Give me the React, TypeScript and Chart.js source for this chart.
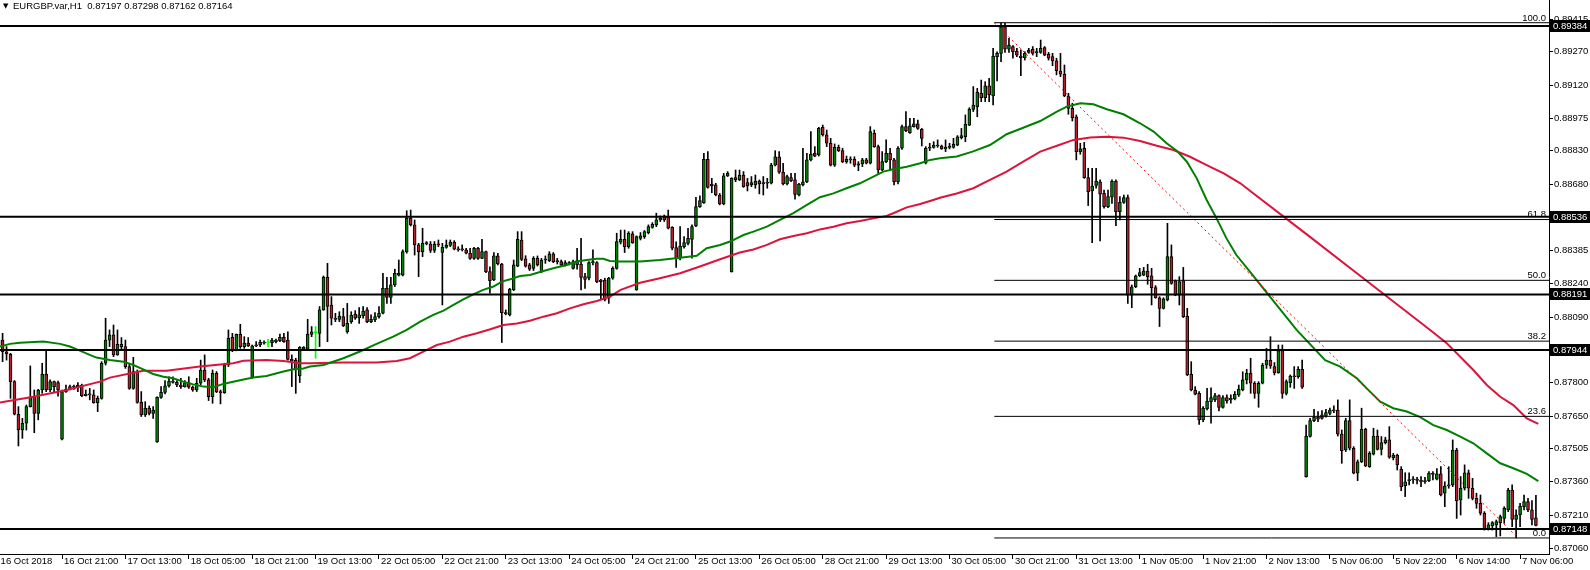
import React, { useEffect, useRef } from "react";
import { Chart, registerables } from "chart.js";

Chart.register(...registerables);

// prices are stored in points (1 point = 0.00001)
const POINT = 0.00001;
const symbolName = "EURGBP.var";
const timeframe = "H1";

const opens = [
  87959,87988,87936,87925,87803,87658,87588,87618,87692,87736,
  87662,87766,87837,87766,87803,87799,87547,87759,87769,87781,
  87778,87788,87741,87747,87744,87710,87729,87885,87988,88011,
  87922,87969,87959,87870,87773,87848,87711,87655,87685,87662,
  87536,87733,87755,87784,87806,87800,87788,87781,87799,87778,
  87766,87796,87855,87811,87736,87840,87759,87754,87877,88000,
  87944,88013,87959,87974,87822,87962,87966,87974,87976,87976,
  87981,87985,88000,87988,87902,87899,87828,87948,87948,88013,
  88021,88018,88122,88267,88144,88085,88080,88092,88025,88070,
  88104,88088,88095,88122,88070,88077,88092,88107,88218,88178,
  88233,88277,88277,88381,88529,88500,88411,88381,88415,88415,
  88386,88415,88378,88400,88409,88424,88392,88389,88389,88374,
  88351,88396,88351,88381,88292,88255,88363,88326,88110,88100,
  88211,88317,88433,88349,88322,88307,88351,88292,88344,88341,
  88371,88337,88337,88322,88332,88307,88341,88326,88270,88263,
  88332,88332,88255,88255,88174,88263,88307,88423,88436,88403,
  88460,88211,88440,88448,88466,88489,88500,88522,88540,88534,
  88489,88399,88352,88403,88418,88436,88495,88581,88599,88792,
  88682,88678,88633,88593,88718,88292,88710,88700,88722,88688,
  88678,88678,88695,88682,88688,88685,88766,88803,88735,88682,
  88710,88700,88633,88678,88692,88789,88818,88811,88934,88900,
  88863,88766,88845,88830,88781,88792,88792,88766,88771,88789,
  88774,88907,88848,88744,88781,88818,88789,88692,88841,88937,
  88910,88937,88949,88925,88774,88841,88845,88855,88851,88838,
  88845,88844,88855,88888,88892,88944,89014,89026,89085,89066,
  89118,89075,89248,89263,89381,89281,89293,89273,89251,89244,
  89267,89281,89266,89267,89288,89258,89248,89230,89184,89170,
  89073,89018,88980,88826,88841,88710,88651,88675,88692,88640,
  88581,88623,88695,88559,88600,88621,88188,88225,88274,88277,
  88295,88273,88221,88176,88129,88166,88359,88251,88188,88251,
  88095,87836,87766,87751,87633,87682,87714,87722,87741,87688,
  87732,87722,87726,87744,87766,87811,87840,87796,87751,87796,
  87877,87899,87870,87843,87941,87751,87799,87828,87825,87858,
  87381,87559,87630,87645,87640,87650,87662,87677,87677,87570,
  87499,87630,87507,87396,87447,87591,87425,87481,87561,87502,
  87532,87544,87465,87477,87413,87341,87363,87366,87368,87364,
  87358,87363,87396,87369,87393,87307,87339,87344,87499,87277,
  87329,87398,87329,87284,87262,87218,87147,87161,87166,87176,
  87195,87233,87321,87191,87210,87247,87270,87233,87197
];

const highs = [
  88011,88018,87959,87929,87808,87692,87640,87699,87873,87766,
  87769,87885,87944,87811,87806,87806,87766,87788,87788,87788,
  87799,87792,87766,87773,87766,87739,87892,88085,88033,88055,
  88033,87999,87988,87885,87911,87855,87759,87714,87695,87692,
  87736,87781,87808,87825,87825,87808,87818,87808,87825,87784,
  87818,87899,87922,87818,87855,87848,87766,87885,88033,88018,
  88015,88058,88003,87999,87966,87981,87988,87985,87991,87996,
  87992,88015,88018,88025,87922,87907,87959,87959,88080,88048,
  88048,88137,88273,88329,88181,88107,88114,88129,88151,88114,
  88119,88132,88137,88132,88100,88110,88137,88285,88267,88267,
  88303,88344,88389,88563,88566,88522,88418,88485,88426,88426,
  88426,88433,88418,88433,88433,88430,88403,88411,88396,88396,
  88400,88400,88436,88384,88314,88377,88374,88329,88122,88218,
  88344,88470,88470,88363,88329,88359,88362,88351,88362,88381,
  88377,88351,88344,88341,88337,88344,88396,88440,88285,88337,
  88389,88337,88258,88263,88267,88314,88463,88477,88477,88470,
  88470,88451,88466,88475,88500,88510,88552,88540,88544,88566,
  88492,88425,88492,88448,88485,88500,88623,88629,88818,88826,
  88707,88685,88640,88729,88737,88710,88744,88744,88737,88707,
  88715,88722,88700,88715,88707,88774,88830,88826,88774,88722,
  88729,88729,88685,88841,88818,88915,88848,88934,88944,88922,
  88885,88860,88855,88841,88806,88803,88803,88781,88796,88796,
  88937,88922,88855,88826,88878,88841,88796,88848,88944,89004,
  88974,88974,88966,88929,88848,88863,88870,88878,88855,88878,
  88863,88885,88897,88929,88989,89021,89115,89107,89144,89137,
  89152,89285,89270,89399,89396,89330,89297,89285,89278,89270,
  89285,89293,89285,89322,89293,89267,89263,89241,89263,89211,
  89085,89041,88989,88863,88867,88752,88752,88752,88700,88655,
  88655,88700,88700,88626,88633,88633,88233,88277,88307,88311,
  88325,88307,88230,88181,88176,88507,88411,88255,88270,88311,
  88129,87892,87781,87759,87692,87773,87776,87751,87744,87741,
  87744,87744,87759,87788,87847,87858,87907,87803,87803,87885,
  87951,88003,87888,87966,87966,87811,87833,87870,87870,87899,
  87610,87640,87680,87670,87674,87680,87685,87695,87722,87588,
  87640,87722,87514,87455,87685,87596,87492,87596,87588,87559,
  87556,87603,87484,87481,87425,87398,87398,87381,87378,87381,
  87378,87403,87403,87417,87425,87358,87425,87544,87507,87381,
  87433,87410,87373,87307,87299,87225,87176,87181,87188,87210,
  87247,87329,87344,87233,87262,87299,87284,87274,87298
];

const lows = [
  87944,87892,87899,87729,87655,87517,87551,87588,87690,87576,
  87633,87751,87759,87759,87754,87739,87544,87755,87766,87769,
  87759,87736,87739,87722,87707,87670,87725,87877,87959,87914,
  87920,87944,87862,87769,87769,87707,87648,87648,87655,87640,
  87533,87729,87748,87778,87796,87781,87773,87778,87773,87760,
  87759,87788,87803,87719,87707,87754,87704,87751,87870,87936,
  87940,87951,87951,87959,87818,87959,87959,87970,87959,87959,
  87975,87981,87977,87899,87781,87751,87799,87944,87944,88003,
  87907,87959,88120,87981,88055,88070,88070,88048,88018,88062,
  88080,88062,88085,88065,88065,88070,88085,88104,88151,88151,
  88226,88273,88273,88374,88495,88366,88270,88359,88411,88377,
  88377,88403,88144,88396,88403,88389,88383,88384,88371,88347,
  88347,88347,88350,88288,88196,88252,88322,87977,88100,88095,
  88208,88314,88341,88312,88297,88297,88317,88288,88329,88337,
  88332,88326,88317,88317,88322,88303,88303,88211,88218,88255,
  88322,88243,88166,88162,88151,88258,88303,88415,88377,88396,
  88418,88209,88433,88440,88460,88485,88492,88515,88515,88482,
  88389,88311,88344,88396,88411,88352,88492,88578,88596,88663,
  88643,88629,88589,88589,88715,88290,88692,88697,88667,88651,
  88670,88663,88638,88633,88663,88682,88762,88729,88678,88678,
  88692,88614,88629,88673,88688,88784,88803,88806,88895,88848,
  88762,88760,88826,88777,88774,88774,88759,88741,88759,88771,
  88771,88845,88726,88741,88777,88744,88678,88682,88836,88915,
  88907,88934,88925,88851,88771,88830,88841,88845,88836,88826,
  88838,88841,88852,88882,88870,88941,89004,88981,89048,89048,
  89048,89033,89140,89226,89267,89267,89241,89248,89164,89233,
  89263,89255,89248,89263,89252,89233,89208,89167,89159,89070,
  88992,88962,88789,88814,88707,88586,88421,88663,88429,88574,
  88577,88596,88497,88522,88596,88151,88132,88221,88270,88274,
  88236,88144,88174,88048,88126,88162,88236,88185,88144,88088,
  87830,87762,87744,87613,87625,87677,87618,87714,87673,87685,
  87707,87707,87722,87737,87762,87793,87751,87729,87689,87793,
  87862,87862,87833,87840,87729,87744,87778,87773,87818,87773,
  87378,87556,87625,87625,87636,87645,87655,87665,87561,87440,
  87492,87499,87393,87363,87443,87425,87422,87477,87499,87477,
  87526,87462,87455,87410,87318,87292,87344,87351,87348,87336,
  87351,87358,87366,87366,87295,87247,87329,87336,87195,87210,
  87321,87284,87277,87240,87210,87143,87143,87143,87114,87117,
  87173,87225,87158,87108,87158,87233,87225,87166,87162
];

const closes = [
  87988,87936,87926,87803,87658,87588,87618,87692,87736,87662,
  87766,87837,87766,87803,87781,87766,87759,87769,87781,87778,
  87788,87741,87747,87744,87710,87729,87885,87988,88011,87922,
  87969,87959,87870,87773,87848,87711,87655,87685,87662,87677,
  87733,87755,87784,87806,87800,87788,87781,87799,87778,87766,
  87796,87855,87811,87736,87840,87759,87754,87877,87996,87944,
  88013,87959,87974,87962,87962,87966,87978,87978,87976,87988,
  87988,88000,87981,87902,87896,87855,87956,87956,88013,88025,
  88021,88122,88267,88137,88085,88080,88095,88051,88062,88098,
  88085,88100,88117,88070,88080,88092,88107,88218,88178,88233,
  88285,88285,88381,88529,88500,88411,88381,88418,88421,88386,
  88415,88411,88400,88409,88424,88392,88389,88392,88374,88351,
  88396,88351,88381,88292,88252,88363,88326,88110,88104,88214,
  88322,88436,88347,88317,88303,88351,88322,88344,88347,88371,
  88337,88341,88322,88332,88326,88337,88322,88267,88258,88332,
  88337,88248,88248,88166,88263,88307,88426,88436,88403,88463,
  88421,88448,88451,88470,88492,88503,88522,88529,88522,88485,
  88396,88352,88406,88421,88440,88492,88581,88608,88792,88667,
  88673,88633,88593,88718,88729,88707,88700,88722,88670,88673,
  88688,88695,88682,88688,88685,88766,88803,88735,88682,88715,
  88697,88636,88682,88692,88789,88815,88806,88929,88900,88863,
  88766,88845,88830,88781,88792,88789,88766,88771,88789,88774,
  88915,88848,88744,88781,88818,88789,88692,88841,88937,88919,
  88940,88949,88929,88885,88841,88845,88855,88851,88838,88845,
  88848,88858,88892,88897,88947,89014,89033,89090,89066,89118,
  89078,89251,89263,89381,89281,89300,89270,89255,89244,89263,
  89276,89263,89268,89285,89255,89241,89229,89186,89170,89073,
  89018,88977,88826,88838,88710,88648,88673,88695,88637,88581,
  88626,88695,88559,88600,88621,88188,88225,88273,88288,88295,
  88270,88221,88176,88129,88171,88359,88240,88188,88248,88092,
  87833,87766,87747,87633,87685,87717,87732,87741,87688,87732,
  87717,87729,87747,87770,87811,87840,87796,87751,87796,87877,
  87899,87873,87843,87941,87751,87803,87828,87825,87858,87778,
  87561,87630,87645,87636,87655,87665,87677,87673,87570,87496,
  87630,87507,87396,87447,87591,87428,87484,87561,87502,87532,
  87544,87467,87477,87433,87336,87358,87366,87369,87364,87358,
  87363,87396,87390,87393,87299,87339,87344,87499,87274,87329,
  87398,87329,87284,87262,87218,87147,87166,87176,87181,87203,
  87240,87321,87191,87210,87250,87270,87233,87191,87164
];

// moving averages (bar position, price in points)
const greenMaBars = [
  0.35,2.9,5.4,11.3,15.5,18,20.5,23,24.7,28.1,31.5,34,36.5,39,41.6,44,46.6,49.1,51.7,54.2,
  56.7,59.2,61.8,64.3,67.6,71.9,74.4,76.9,78.6,82,87,91.2,95.4,99.6,103,106.4,109.7,112.3,114.8,117.3,
  119.8,122.3,124.9,127,129.1,131.6,134.1,137.5,140,143.4,145.9,148.4,150.95,152.6,154.3,156.8,161.9,166.9,172,176.2,
  178.7,182.1,184.6,188,190.5,193.9,197.2,200.6,204,207.3,210.7,214,217.4,220.8,223.3,225.8,229.2,232.6,235.1,237.6,
  241.8,245.8,250.2,252.8,254.4,258.6,262.9,267.1,269.6,273,276.3,279.7,283.9,288.1,291.5,294.8,297.4,299.9,302.4,304.9,
  307.4,309.9,312.4,315.8,327.6,334.8,338.6,342.8,345.3,348.7,352,355.4,358.8,362.1,365.5,368.9,372.2,375.6,379,382.3,
  385.7,388.6
];
const greenMaValues = [
  87959,87971,87976,87982,87971,87959,87941,87922,87910,87899,87892,87877,87858,87837,87825,87818,87803,87791,87781,87778,
  87793,87803,87813,87821,87828,87848,87858,87862,87870,87877,87907,87937,87971,88003,88033,88070,88100,88119,88144,88169,
  88191,88211,88226,88248,88258,88273,88277,88295,88307,88322,88337,88344,88349,88349,88340,88337,88337,88344,88354,88363,
  88396,88411,88426,88455,88470,88492,88522,88552,88589,88623,88640,88663,88685,88715,88737,88747,88759,88774,88789,88796,
  88804,88826,88855,88885,88903,88932,88962,89004,89026,89041,89036,89014,88992,88952,88915,88863,88829,88781,88707,88611,
  88529,88440,88366,88292,88033,87899,87870,87818,87773,87714,87685,87670,87645,87610,87588,87559,87529,87484,87440,87418,
  87393,87361
];

const redMaBars = [
  0.35,8.8,17.2,25.6,28.1,34,36.5,42.4,50.8,59.2,61.8,67.6,71.9,76.1,78.6,87,95.4,100.5,103.8,107.2,
  110.6,113.9,117.3,120.7,124.1,127.4,130.8,134.1,137.5,140.9,144.2,147.6,151,154.3,157,161.9,166.9,172,177,182.1,
  187.1,190.5,193.9,197.2,200.6,204,207.3,210.7,214,217.4,220.8,224.1,225.8,229.2,232.6,235.9,237.6,241.8,246,250.2,
  254.4,258.6,262.9,267.1,271.3,275.5,279.7,283.9,288.1,292.3,296.5,300.7,304.9,309.2,313.4,315.9,330,345,361.3,365.5,
  368.9,372.2,375.6,379,382.3,385.7,388.6
];
const redMaValues = [
  87710,87736,87766,87803,87821,87843,87851,87852,87870,87885,87896,87899,87895,87885,87885,87888,87888,87895,87907,87937,
  87966,87981,88003,88018,88036,88055,88062,88074,88092,88107,88129,88147,88162,88181,88211,88243,88263,88285,88315,88347,
  88377,88391,88411,88436,88451,88463,88480,88492,88507,88517,88529,88540,88552,88578,88593,88611,88621,88640,88663,88700,
  88737,88781,88826,88852,88878,88889,88892,88888,88873,88852,88833,88803,88766,88729,88685,88651,88460,88255,88033,87974,
  87914,87855,87788,87736,87699,87640,87615
];

const timeLabelBars = [0,16,32,48,64,80,96,112,128,144,160,176,192,208,224,240,256,272,288,304,320,336,352,368,384];
const timeLabels = [
  "16 Oct 2018","16 Oct 21:00","17 Oct 13:00","18 Oct 05:00","18 Oct 21:00","19 Oct 13:00",
  "22 Oct 05:00","22 Oct 21:00","23 Oct 13:00","24 Oct 05:00","24 Oct 21:00","25 Oct 13:00",
  "26 Oct 05:00","28 Oct 21:00","29 Oct 13:00","30 Oct 05:00","30 Oct 21:00","31 Oct 13:00",
  "1 Nov 05:00","1 Nov 21:00","2 Nov 13:00","5 Nov 06:00","5 Nov 22:00","6 Nov 14:00","7 Nov 06:00"
];

const priceTicks = [
  0.89415,0.8927,0.8912,0.88975,0.8883,0.8868,0.88535,0.88385,0.8824,
  0.8809,0.87945,0.878,0.8765,0.87505,0.8736,0.8721,0.8706
];

const levelLines = [0.89384, 0.88536, 0.88191, 0.87944, 0.87148];

const fibLevels = [0, 23.6, 38.2, 50, 61.8, 100];
const fibHigh = 0.89399;
const fibLow = 0.87108;
const fibStartBar = 251.3;
const fibEndBar = 383.5;

const X_MIN = 0.35;
const X_MAX = 391.3;
const Y_MIN = 0.870367;
const Y_MAX = 0.895;

const FONT = "Tahoma, 'Liberation Sans', Arial, sans-serif";
const FONT_SIZE = 9.5;

const BULL = "#008000";
const BEAR = "#b4202a";
const DOJI = "#00ff00";

export default function App() {
  const canvasRef = useRef<HTMLCanvasElement | null>(null);

  useEffect(() => {
    document.body.style.margin = "0";
    const canvas = canvasRef.current;
    if (!canvas) return;

    const bodyFill = opens.map((o, i) => (o === closes[i] ? DOJI : closes[i] > o ? BULL : BEAR));
    const lineColor = opens.map((o, i) => (o === closes[i] ? DOJI : "#000000"));

    const wicks = opens.map((_, i) => ({ x: i, y: [lows[i] * POINT, highs[i] * POINT] }));
    const bodies = opens.map((o, i) => ({ x: i, y: [o * POINT, closes[i] * POINT] }));

    const hLineSets = levelLines.map((v) => ({
      type: "line" as const,
      data: [{ x: X_MIN, y: v }, { x: X_MAX, y: v }],
      borderColor: "#000000",
      borderWidth: 2,
      pointRadius: 0,
      order: 0,
    }));

    const fibSets = fibLevels.map((l) => {
      const p = fibLow + ((fibHigh - fibLow) * l) / 100;
      return {
        type: "line" as const,
        data: [{ x: fibStartBar, y: p }, { x: X_MAX, y: p }],
        borderColor: "#000000",
        borderWidth: 1,
        pointRadius: 0,
        order: 0,
      };
    });

    const overlay = {
      id: "mt4Overlay",
      afterDraw(chart: any) {
        const { ctx, chartArea } = chart;
        const y = chart.scales.y;
        ctx.save();
        // fibonacci level captions
        ctx.font = `${FONT_SIZE}px ${FONT}`;
        ctx.fillStyle = "#000";
        ctx.textAlign = "right";
        ctx.textBaseline = "bottom";
        fibLevels.forEach((l) => {
          const p = fibLow + ((fibHigh - fibLow) * l) / 100;
          const py = y.getPixelForValue(p);
          ctx.fillText(l.toFixed(1), chartArea.right - 3, py);
        });
        // price boxes on the axis
        levelLines.forEach((v) => {
          const py = Math.round(y.getPixelForValue(v));
          ctx.fillStyle = "#000";
          ctx.fillRect(chartArea.right + 1, py - 6, chart.width - chartArea.right - 1, 12);
          ctx.fillStyle = "#fff";
          ctx.textAlign = "left";
          ctx.textBaseline = "middle";
          ctx.fillText(v.toFixed(5), chartArea.right + 4, py + 0.5);
        });
        // title
        const last = opens.length - 1;
        const ohlc = [opens[last], highs[last], lows[last], closes[last]]
          .map((v) => (v * POINT).toFixed(5))
          .join(" ");
        ctx.fillStyle = "#000";
        ctx.textAlign = "left";
        ctx.textBaseline = "middle";
        ctx.font = "7px 'DejaVu Sans'";
        ctx.fillText("\u25BC", 3, 6);
        ctx.font = `${FONT_SIZE}px ${FONT}`;
        ctx.fillText(`${symbolName},${timeframe}  ${ohlc}`, 13, 6);
        ctx.restore();
      },
    };

    const chart = new Chart(canvas, {
      type: "bar",
      data: {
        datasets: [
          {
            type: "bar",
            data: wicks as any,
            backgroundColor: lineColor,
            borderWidth: 0,
            barThickness: 1,
            grouped: false,
            order: 3,
          } as any,
          {
            type: "bar",
            data: bodies as any,
            backgroundColor: bodyFill,
            borderColor: lineColor,
            borderWidth: 1,
            borderSkipped: false,
            barThickness: 3,
            minBarLength: 1,
            grouped: false,
            order: 2,
          } as any,
          {
            type: "line",
            data: greenMaBars.map((b, i) => ({ x: b, y: greenMaValues[i] * POINT })),
            borderColor: "#008000",
            borderWidth: 2,
            pointRadius: 0,
            order: 1,
          } as any,
          {
            type: "line",
            data: redMaBars.map((b, i) => ({ x: b, y: redMaValues[i] * POINT })),
            borderColor: "#dc143c",
            borderWidth: 2,
            pointRadius: 0,
            order: 1,
          } as any,
          ...(hLineSets as any[]),
          ...(fibSets as any[]),
          {
            type: "line",
            data: [
              { x: fibStartBar, y: fibHigh },
              { x: fibEndBar, y: fibLow },
            ],
            borderColor: "#ff0000",
            borderWidth: 1,
            borderDash: [2, 3],
            pointRadius: 0,
            order: 0,
          } as any,
        ],
      },
      options: {
        responsive: false,
        animation: false,
        devicePixelRatio: 1,
        events: [],
        layout: { padding: 0 },
        plugins: {
          legend: { display: false },
          tooltip: { enabled: false },
          title: { display: false },
        },
        scales: {
          x: {
            type: "linear",
            position: "bottom",
            min: X_MIN,
            max: X_MAX,
            offset: false,
            grid: {
              display: true,
              offset: false,
              drawOnChartArea: false,
              drawTicks: true,
              tickLength: 5,
              color: "#000",
              lineWidth: 1,
            },
            border: { display: true, color: "#000", width: 1 },
            ticks: {
              autoSkip: false,
              maxRotation: 0,
              minRotation: 0,
              align: "start",
              labelOffset: 2,
              padding: -3,
              color: "#000",
              font: { family: FONT, size: FONT_SIZE },
              callback: (v: any) => {
                const k = timeLabelBars.indexOf(Number(v));
                return k >= 0 ? timeLabels[k] : "";
              },
            },
            afterBuildTicks: (s: any) => {
              s.ticks = timeLabelBars.map((v) => ({ value: v }));
            },
            afterFit: (s: any) => {
              s.height = 16;
              s.paddingLeft = 0;
              s.paddingRight = 0;
              s.paddingTop = 0;
              s.paddingBottom = 0;
            },
          } as any,
          y: {
            type: "linear",
            position: "right",
            min: Y_MIN,
            max: Y_MAX,
            bounds: "data",
            grid: {
              drawOnChartArea: false,
              drawTicks: true,
              tickLength: 4,
              color: "#000",
            },
            border: { display: true, color: "#000", width: 1 },
            ticks: {
              autoSkip: false,
              padding: 1,
              color: "#000",
              font: { family: FONT, size: FONT_SIZE },
              callback: (v: any) => Number(v).toFixed(5),
            },
            afterBuildTicks: (s: any) => {
              s.ticks = priceTicks.map((v) => ({ value: v }));
            },
            afterFit: (s: any) => {
              s.width = 41;
              s.paddingLeft = 0;
              s.paddingRight = 0;
              s.paddingTop = 0;
              s.paddingBottom = 0;
            },
          } as any,
        },
      },
      plugins: [overlay],
    });

    return () => {
      chart.destroy();
    };
  }, []);

  return (
    <div style={{ width: 1590, height: 570, background: "#fff" }}>
      <canvas ref={canvasRef} width={1590} height={570} style={{ display: "block" }} />
    </div>
  );
}
